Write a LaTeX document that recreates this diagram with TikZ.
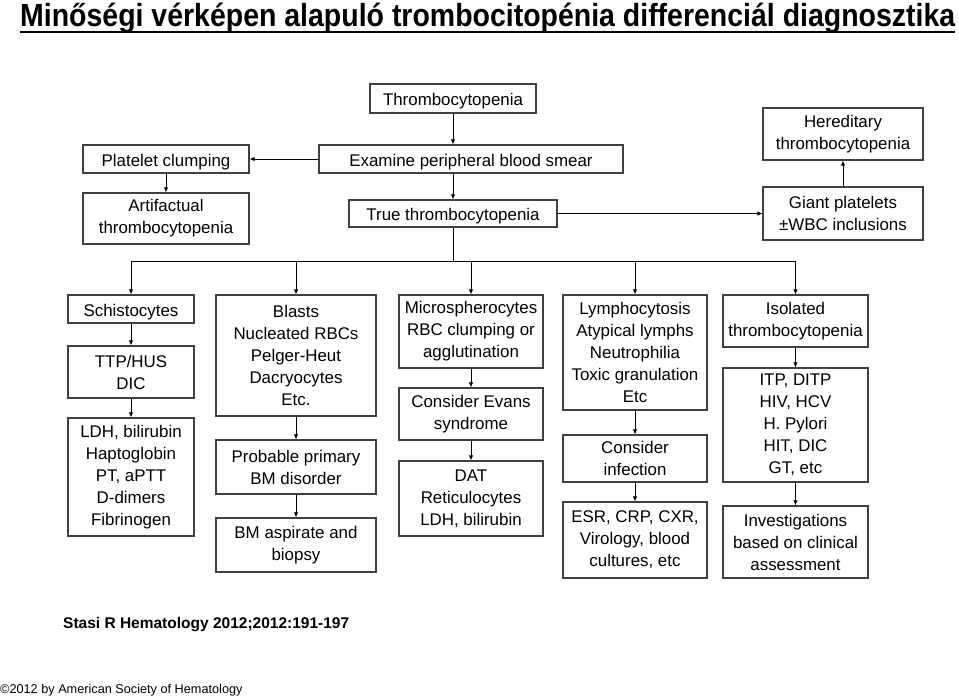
\documentclass[tikz,border=0pt]{standalone}
\usepackage{fontspec}
\setmainfont{Liberation Sans}
\usepackage{graphicx}
\usepackage{tikz}
\usetikzlibrary{arrows.meta}

\tikzset{
    box/.style={draw=black!75, line width=1.1pt, inner sep=0pt, align=center,
        font=\fontsize{16.9}{22}\selectfont,
        execute at begin node={\rule{0pt}{18.5pt}}},
    link/.style={black, line width=0.9pt, -{Latex[length=5pt,width=4.5pt]}},
    bar/.style={black, line width=0.9pt}
}

\begin{document}
\begin{tikzpicture}[x=1pt, y=-1pt]
    \useasboundingbox (0,0) rectangle (959,700);

    % title
    \node[anchor=base west, inner sep=0pt] (title) at (20,27)
        {\resizebox{935pt}{\height}{\fontsize{32}{32}\selectfont\bfseries Minőségi vérképen alapuló trombocitopénia differenciál diagnosztika}};
    \draw[line width=2.4pt] ([yshift=-5pt]title.base west) -- ([yshift=-5pt]title.base east);

    % top part
    \node[box, minimum width=166, minimum height=29] (thromb) at (453,98.5) {Thrombocytopenia};
    \node[box, minimum width=304, minimum height=28] (exam) at (471,159) {Examine peripheral blood smear};
    \node[box, minimum width=166, minimum height=28] (plt) at (166,159) {Platelet clumping};
    \node[box, minimum width=166, minimum height=51] (art) at (166,218.5) {Artifactual\\thrombocytopenia};
    \node[box, minimum width=208, minimum height=27] (true) at (453,213.5) {True thrombocytopenia};
    \node[box, minimum width=160, minimum height=53] (giant) at (843,213.5) {Giant platelets\\±WBC inclusions};
    \node[box, minimum width=160, minimum height=52] (hered) at (843,134) {Hereditary\\thrombocytopenia};

    \draw[link] (thromb.south) -- (thromb.south |- exam.north);
    \draw[link] (exam.west) -- (plt.east);
    \draw[link] (plt) -- (art);
    \draw[link] (true.north |- exam.south) -- (true.north);
    \draw[link] (true.east) -- (giant.west);
    \draw[link] (giant) -- (hered);

    % second row
    \node[box, minimum width=126, minimum height=28] (schisto) at (131,309) {Schistocytes};
    \node[box, minimum width=126, minimum height=52] (ttp) at (131,372) {TTP/HUS\\DIC};
    \node[box, minimum width=126, minimum height=118] (ldh) at (131,477) {LDH, bilirubin\\Haptoglobin\\PT, aPTT\\D-dimers\\Fibrinogen};

    \node[box, minimum width=160, minimum height=121] (blasts) at (296,355.5) {Blasts\\Nucleated RBCs\\Pelger-Heut\\Dacryocytes\\Etc.};
    \node[box, minimum width=160, minimum height=54] (prob) at (296,467) {Probable primary\\BM disorder};
    \node[box, minimum width=160, minimum height=54] (bm) at (296,545) {BM aspirate and\\biopsy};

    \node[box, minimum width=144, minimum height=73] (micro) at (471,331.5) {Microspherocytes\\RBC clumping or\\agglutination};
    \node[box, minimum width=144, minimum height=52] (evans) at (471,414) {Consider Evans\\syndrome};
    \node[box, minimum width=144, minimum height=75] (dat) at (471,498.5) {DAT\\Reticulocytes\\LDH, bilirubin};

    \node[box, minimum width=144, minimum height=115] (lympho) at (635,352.5) {Lymphocytosis\\Atypical lymphs\\Neutrophilia\\Toxic granulation\\Etc};
    \node[box, minimum width=144, minimum height=47] (infect) at (635,458.5) {Consider\\infection};
    \node[box, minimum width=144, minimum height=76] (esr) at (635,540) {ESR, CRP, CXR,\\Virology, blood\\cultures, etc};

    \node[box, minimum width=145, minimum height=52] (iso) at (795.5,321) {Isolated\\thrombocytopenia};
    \node[box, minimum width=145, minimum height=114] (itp) at (795.5,425) {ITP, DITP\\HIV, HCV\\H. Pylori\\HIT, DIC\\GT, etc};
    \node[box, minimum width=145, minimum height=72] (invest) at (795.5,542) {Investigations\\based on clinical\\assessment};

    % branching
    \coordinate (bus) at (453,261);
    \draw[bar] (true.south) -- (bus);
    \draw[bar] (schisto.north |- bus) -- (iso.north |- bus);
    \foreach \n in {schisto, blasts, micro, lympho, iso} {
        \draw[link] (\n.north |- bus) -- (\n.north);
    }

    % chains
    \draw[link] (schisto) -- (ttp);
    \draw[link] (ttp) -- (ldh);
    \draw[link] (blasts) -- (prob);
    \draw[link] (prob) -- (bm);
    \draw[link] (micro) -- (evans);
    \draw[link] (evans) -- (dat);
    \draw[link] (lympho) -- (infect);
    \draw[link] (infect) -- (esr);
    \draw[link] (iso) -- (itp);
    \draw[link] (itp) -- (invest);

    % source
    \node[anchor=base west, inner sep=0pt, font=\fontsize{15.5}{18}\selectfont\bfseries] (ref) at (63,628) {Stasi R Hematology 2012;2012:191-197};
    \node[anchor=base west, inner sep=0pt, font=\fontsize{12.7}{15}\selectfont] (copy) at (0,693) {©2012 by American Society of Hematology};
\end{tikzpicture}
\end{document}
